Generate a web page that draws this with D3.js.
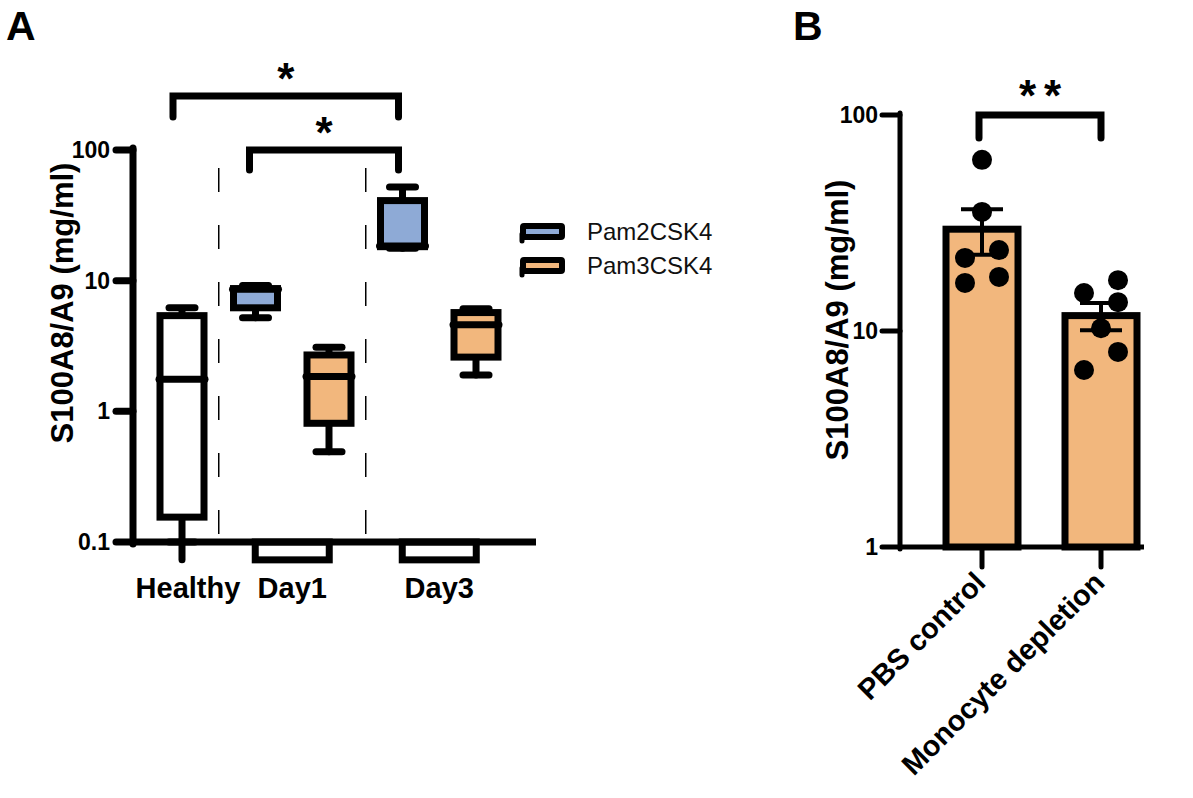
<!DOCTYPE html>
<html><head><meta charset="utf-8">
<script src="https://cdn.jsdelivr.net/npm/d3@7"></script>
<style>
html,body{margin:0;padding:0;background:#fff;}
svg{display:block;font-family:"Liberation Sans",Arial,sans-serif;}
</style></head>
<body>
<svg id="chart" width="1193" height="798"></svg>
<script>
// ---------- Panel A data ----------
const yTickValuesA = [0.1, 1, 10, 100];
const yTickLabelsA = ["0.1", "1", "10", "100"];
const groupsA = ["Healthy", "Day1", "Day3"];
const seriesA = ["Pam2CSK4", "Pam3CSK4"];
const boxGroup  = ["Healthy", "Day1", "Day1", "Day3", "Day3"];
const boxSeries = ["Healthy", "Pam2CSK4", "Pam3CSK4", "Pam2CSK4", "Pam3CSK4"];
const boxMin    = [0.073, 5.2, 0.49, 17.7, 1.9];
const boxQ1     = [0.155, 6.2, 0.81, 18.2, 2.6];
const boxMedian = [1.76, 8.6, 1.85, 18.4, 4.6];
const boxQ3     = [5.4, 8.7, 2.7, 41, 5.7];
const boxMax    = [6.2, 9.2, 3.1, 52, 6.1];
// empty boxes lying below the axis minimum (Day1, Day3)
const lowBoxGroup = ["Day1", "Day3"];
const lowBoxLow   = [0.073, 0.073];
const lowBoxHigh  = [0.1, 0.1];
const sigA = [["Healthy|Healthy", "Day3|Pam2CSK4", "*"], ["Day1|Pam2CSK4", "Day3|Pam2CSK4", "*"]];

// ---------- Panel B data ----------
const categoriesB = ["PBS control", "Monocyte depletion"];
const yTickValuesB = [1, 10, 100];
const yTickLabelsB = ["1", "10", "100"];
const pointsPBS  = [62, 35.6, 21.8, 23.7, 16.7, 17.8];
const jitterPBS  = [0, 0, -1, 1, -1, 1];
const pointsMono = [17.2, 15.0, 13.6, 10.3, 8.0, 6.6];
const jitterMono = [1, -1, 1, 0, 1, -1];
const sigB = "**";

const colors = {Healthy: "#ffffff", Pam2CSK4: "#8eaad6", Pam3CSK4: "#f2b77d"};
const barColor = "#f2b77d";

const svg = d3.select("#chart");
const font = '"Liberation Sans", Arial, sans-serif';

// ================= PANEL A =================
const yA = d3.scaleLog().domain([0.1, 100]).range([542, 150]);
const slotKeys = boxGroup.map((g, i) => g + "|" + boxSeries[i]);
const xA = d3.scalePoint().domain(slotKeys).range([182, 476]);
const groupCenter = g => d3.mean(slotKeys.filter(k => k.startsWith(g + "|")), k => xA(k));
const A = svg.append("g");

svg.append("text").attr("x", 6).attr("y", 40).text("A")
  .attr("font-size", 41).attr("font-weight", "bold").attr("font-family", font);

// dashed separators
[[slotKeys[0], slotKeys[1]], [slotKeys[2], slotKeys[3]]].forEach(([a, b]) => {
  const x = (xA(a) + xA(b)) / 2;
  A.append("line").attr("x1", x).attr("x2", x).attr("y1", 168).attr("y2", 540)
    .attr("stroke", "#000").attr("stroke-width", 1.5).attr("stroke-dasharray", "24,33");
});

const sw = 7, boxW = 44;
// low boxes below axis
lowBoxGroup.forEach((g, i) => {
  const cx = groupCenter(g);
  A.append("rect").attr("x", cx - 37).attr("width", 74)
    .attr("y", yA(lowBoxHigh[i])).attr("height", yA(lowBoxLow[i]) - yA(lowBoxHigh[i]))
    .attr("fill", "#fff").attr("stroke", "#000").attr("stroke-width", sw);
});

// boxes
slotKeys.forEach((k, i) => {
  const cx = xA(k);
  const g = A.append("g");
  const capMin = Math.max(boxMin[i], 0.1);
  g.append("line").attr("x1", cx).attr("x2", cx).attr("y1", yA(boxMin[i])).attr("y2", yA(boxQ1[i]))
    .attr("stroke", "#000").attr("stroke-width", sw).attr("stroke-linecap", "round");
  g.append("line").attr("x1", cx).attr("x2", cx).attr("y1", yA(boxMax[i])).attr("y2", yA(boxQ3[i]))
    .attr("stroke", "#000").attr("stroke-width", sw);
  [capMin, boxMax[i]].forEach(v => {
    g.append("line").attr("x1", cx - 13).attr("x2", cx + 13).attr("y1", yA(v)).attr("y2", yA(v))
      .attr("stroke", "#000").attr("stroke-width", sw).attr("stroke-linecap", "round");
  });
  g.append("rect").attr("x", cx - boxW / 2).attr("width", boxW)
    .attr("y", yA(boxQ3[i])).attr("height", yA(boxQ1[i]) - yA(boxQ3[i]))
    .attr("fill", colors[boxSeries[i]]).attr("stroke", "#000").attr("stroke-width", sw);
  g.append("line").attr("x1", cx - boxW / 2 - 1).attr("x2", cx + boxW / 2 + 1)
    .attr("y1", yA(boxMedian[i])).attr("y2", yA(boxMedian[i]))
    .attr("stroke", "#000").attr("stroke-width", sw).attr("stroke-linecap", "round");
});

// axes A
const axA = A.append("g");
axA.append("line").attr("x1", 133).attr("x2", 536).attr("y1", yA(0.1)).attr("y2", yA(0.1))
  .attr("stroke", "#000").attr("stroke-width", 7);
axA.append("line").attr("x1", 133).attr("x2", 133).attr("y1", yA(100) - 2).attr("y2", yA(0.1) + 2)
  .attr("stroke", "#000").attr("stroke-width", 7).attr("stroke-linecap", "round");
yTickValuesA.forEach((v, i) => {
  axA.append("line").attr("x1", 116).attr("x2", 133).attr("y1", yA(v)).attr("y2", yA(v))
    .attr("stroke", "#000").attr("stroke-width", 7).attr("stroke-linecap", "round");
  axA.append("text").attr("x", 110).attr("y", yA(v)).attr("dy", "0.35em")
    .attr("text-anchor", "end").attr("font-size", 23).attr("font-weight", "bold")
    .attr("font-family", font).text(yTickLabelsA[i]);
});
groupsA.forEach(g => {
  const cx = g === "Healthy" ? groupCenter(g) + 6 : groupCenter(g);
  axA.append("text").attr("x", cx).attr("y", 598).attr("text-anchor", "middle")
    .attr("font-size", 29).attr("font-weight", "bold").attr("font-family", font).text(g);
});
A.append("text").attr("transform", "translate(73,303) rotate(-90)").attr("text-anchor", "middle")
  .attr("font-size", 31).attr("font-weight", "bold").attr("font-family", font).text("S100A8/A9 (mg/ml)");

// significance A
const sigLevels = [{y: 96, leg: 117, ins: [9, 4]}, {y: 150, leg: 170, ins: [6, 4]}];
sigA.forEach(([a, b, s], i) => {
  const L = sigLevels[i];
  const x1 = xA(a) - L.ins[0], x2 = xA(b) - L.ins[1];
  A.append("path").attr("d", `M${x1},${L.leg}V${L.y}H${x2}V${L.leg}`)
    .attr("fill", "none").attr("stroke", "#000").attr("stroke-width", 7)
    .attr("stroke-linecap", "round").attr("stroke-linejoin", "miter");
  A.append("text").attr("x", (x1 + x2) / 2).attr("y", L.y - 2).attr("text-anchor", "middle")
    .attr("font-size", 44).attr("font-weight", "bold").attr("font-family", font).text(s);
});

// legend A
seriesA.forEach((s, i) => {
  const y0 = 226 + i * 34;
  A.append("rect").attr("x", 523).attr("y", y0).attr("width", 39).attr("height", 11)
    .attr("fill", colors[s]).attr("stroke", "#000").attr("stroke-width", 6).attr("rx", 1);
  A.append("line").attr("x1", 522).attr("x2", 522).attr("y1", y0 + 8).attr("y2", y0 + 15)
    .attr("stroke", "#000").attr("stroke-width", 5).attr("stroke-linecap", "round");
  A.append("text").attr("x", 587).attr("y", y0 + 6).attr("dy", "0.35em")
    .attr("font-size", 24).attr("font-family", font).attr("fill", "#111").text(s);
});

// ================= PANEL B =================
const B = svg.append("g");
svg.append("text").attr("x", 793).attr("y", 40).text("B")
  .attr("font-size", 41).attr("font-weight", "bold").attr("font-family", font);

const yB = d3.scaleLog().domain([1, 100]).range([547, 115]);
const xB = d3.scalePoint().domain(categoriesB).range([982, 1101]);
const pointSets = [pointsPBS, pointsMono];
const jitters = [jitterPBS, jitterMono];
const barW = 72;

categoriesB.forEach((c, i) => {
  const pts = pointSets[i];
  const m = d3.mean(pts);
  const sem = d3.deviation(pts) / Math.sqrt(pts.length);
  const cx = xB(c);
  B.append("rect").attr("x", cx - barW / 2).attr("width", barW)
    .attr("y", yB(m)).attr("height", yB(1) - yB(m))
    .attr("fill", barColor).attr("stroke", "#000").attr("stroke-width", 7);
  B.append("line").attr("x1", cx).attr("x2", cx).attr("y1", yB(m - sem)).attr("y2", yB(m + sem))
    .attr("stroke", "#000").attr("stroke-width", 4);
  [m - sem, m + sem].forEach(v => {
    B.append("line").attr("x1", cx - 21).attr("x2", cx + 21).attr("y1", yB(v)).attr("y2", yB(v))
      .attr("stroke", "#000").attr("stroke-width", 4);
  });
  pts.forEach((v, j) => {
    B.append("circle").attr("cx", cx + jitters[i][j] * 17).attr("cy", yB(v)).attr("r", 10).attr("fill", "#000");
  });
});

// axes B
B.append("line").attr("x1", 900).attr("x2", 1144).attr("y1", yB(1)).attr("y2", yB(1))
  .attr("stroke", "#000").attr("stroke-width", 5);
B.append("line").attr("x1", 900).attr("x2", 900).attr("y1", yB(100) - 2).attr("y2", yB(1) + 2)
  .attr("stroke", "#000").attr("stroke-width", 5).attr("stroke-linecap", "round");
yTickValuesB.forEach((v, i) => {
  B.append("line").attr("x1", 882).attr("x2", 900).attr("y1", yB(v)).attr("y2", yB(v))
    .attr("stroke", "#000").attr("stroke-width", 5).attr("stroke-linecap", "round");
  B.append("text").attr("x", 878).attr("y", yB(v)).attr("dy", "0.35em")
    .attr("text-anchor", "end").attr("font-size", 23).attr("font-weight", "bold")
    .attr("font-family", font).text(yTickLabelsB[i]);
});
categoriesB.forEach(c => {
  const cx = xB(c);
  B.append("line").attr("x1", cx).attr("x2", cx).attr("y1", yB(1)).attr("y2", 567)
    .attr("stroke", "#000").attr("stroke-width", 5).attr("stroke-linecap", "round");
  B.append("text").attr("transform", `translate(${cx - 2},${577}) rotate(-45)`)
    .attr("text-anchor", "end").attr("dy", "0.35em")
    .attr("font-size", 29).attr("font-weight", "bold").attr("font-family", font).text(c);
});
B.append("text").attr("transform", "translate(848,320) rotate(-90)").attr("text-anchor", "middle")
  .attr("font-size", 31).attr("font-weight", "bold").attr("font-family", font).text("S100A8/A9 (mg/ml)");

// significance B
const bx1 = xB(categoriesB[0]) - 3, bx2 = xB(categoriesB[1]);
B.append("path").attr("d", `M${bx1},138V115H${bx2}V138`)
  .attr("fill", "none").attr("stroke", "#000").attr("stroke-width", 7).attr("stroke-linecap", "round");
B.append("text").attr("x", (bx1 + bx2) / 2 + 4).attr("y", 111).attr("text-anchor", "middle")
  .attr("font-size", 44).attr("font-weight", "bold").attr("font-family", font)
  .attr("letter-spacing", 8).text(sigB);
</script>
</body></html>
